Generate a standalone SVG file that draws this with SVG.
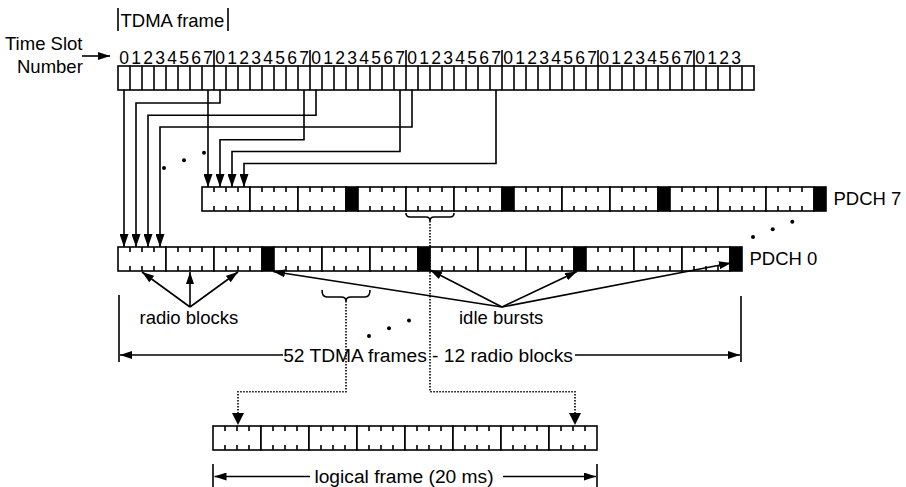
<svg xmlns="http://www.w3.org/2000/svg" xmlns:xlink="http://www.w3.org/1999/xlink" width="906" height="487" viewBox="0 0 906 487">
<style>
text{font-family:"Liberation Sans",Arial,sans-serif;fill:#000}
.lbl{font-size:18.5px}
.big{font-size:19.2px}
.dig{font-size:17.5px;text-anchor:middle}
.ln{fill:none;stroke:#000;stroke-width:1.6}
.dot{fill:none;stroke:#000;stroke-width:1.6;stroke-dasharray:1.5 1.5}
</style>
<defs>
<marker id="ah" viewBox="0 0 12 8" refX="12" refY="4" markerWidth="12" markerHeight="8" markerUnits="userSpaceOnUse" orient="auto"><path d="M0 0L12 4L0 8z" fill="#000"/></marker>
<marker id="ahB" viewBox="0 0 13 9" refX="13" refY="4.5" markerWidth="13" markerHeight="9" markerUnits="userSpaceOnUse" orient="auto"><path d="M0 0L13 4.5L0 9z" fill="#000"/></marker>
<g id="rb"><rect width="48" height="24" fill="#fff" stroke="#000" stroke-width="1.6"/><path d="M12 0v5M24 0v5M36 0v5M12 24v-5M24 24v-5M36 24v-5" stroke="#000" stroke-width="1.6"/></g>
<rect id="ib" width="12" height="24" fill="#000" stroke="#000" stroke-width="1.6"/>
</defs>
<rect width="906" height="487" fill="#fff"/>

<g id="tdma-label">
<path class="ln" d="M118 8V31M228 8V31"/>
<text class="lbl" x="120.5" y="26.5">TDMA frame</text>
</g>

<g id="ts-label">
<text class="lbl" x="5" y="49.5">Time Slot</text>
<text class="lbl" x="17" y="73">Number</text>
</g>

<g id="tdma-frames">
<rect x="118" y="66" width="636" height="24" fill="#fff" stroke="#000" stroke-width="1.6"/>
<path class="ln" d="M130 66v24M142 66v24M154 66v24M166 66v24M178 66v24M190 66v24M202 66v24M214 66v24M226 66v24M238 66v24M250 66v24M262 66v24M274 66v24M286 66v24M298 66v24M310 66v24M322 66v24M334 66v24M346 66v24M358 66v24M370 66v24M382 66v24M394 66v24M406 66v24M418 66v24M430 66v24M442 66v24M454 66v24M466 66v24M478 66v24M490 66v24M502 66v24M514 66v24M526 66v24M538 66v24M550 66v24M562 66v24M574 66v24M586 66v24M598 66v24M610 66v24M622 66v24M634 66v24M646 66v24M658 66v24M670 66v24M682 66v24M694 66v24M706 66v24M718 66v24M730 66v24M742 66v24"/>
<path class="ln" d="M214 50v16M310 50v16M406 50v16M502 50v16M598 50v16M694 50v16"/>
<text class="dig" x="124 136 148 160 172 184 196 208" y="64">01234567</text>
<text class="dig" x="220 232 244 256 268 280 292 304" y="64">01234567</text>
<text class="dig" x="316 328 340 352 364 376 388 400" y="64">01234567</text>
<text class="dig" x="412 424 436 448 460 472 484 496" y="64">01234567</text>
<text class="dig" x="508 520 532 544 556 568 580 592" y="64">01234567</text>
<text class="dig" x="604 616 628 640 652 664 676 688" y="64">01234567</text>
<text class="dig" x="700 712 724 736" y="64">0123</text>
</g>

<g id="pdch7">
<use xlink:href="#rb" x="202" y="187"/><use xlink:href="#rb" x="250" y="187"/><use xlink:href="#rb" x="298" y="187"/><use xlink:href="#ib" x="346" y="187"/>
<use xlink:href="#rb" x="358" y="187"/><use xlink:href="#rb" x="406" y="187"/><use xlink:href="#rb" x="454" y="187"/><use xlink:href="#ib" x="502" y="187"/>
<use xlink:href="#rb" x="514" y="187"/><use xlink:href="#rb" x="562" y="187"/><use xlink:href="#rb" x="610" y="187"/><use xlink:href="#ib" x="658" y="187"/>
<use xlink:href="#rb" x="670" y="187"/><use xlink:href="#rb" x="718" y="187"/><use xlink:href="#rb" x="766" y="187"/><use xlink:href="#ib" x="814" y="187"/>
<text class="lbl" x="833.5" y="205">PDCH 7</text>
</g>

<g id="pdch0">
<use xlink:href="#rb" x="118" y="247"/><use xlink:href="#rb" x="166" y="247"/><use xlink:href="#rb" x="214" y="247"/><use xlink:href="#ib" x="262" y="247"/>
<use xlink:href="#rb" x="274" y="247"/><use xlink:href="#rb" x="322" y="247"/><use xlink:href="#rb" x="370" y="247"/><use xlink:href="#ib" x="418" y="247"/>
<use xlink:href="#rb" x="430" y="247"/><use xlink:href="#rb" x="478" y="247"/><use xlink:href="#rb" x="526" y="247"/><use xlink:href="#ib" x="574" y="247"/>
<use xlink:href="#rb" x="586" y="247"/><use xlink:href="#rb" x="634" y="247"/><use xlink:href="#rb" x="682" y="247"/><use xlink:href="#ib" x="730" y="247"/>
<text class="lbl" x="749.5" y="264.5">PDCH 0</text>
</g>

<g id="logical-frame">
<use xlink:href="#rb" x="213" y="426"/><use xlink:href="#rb" x="261" y="426"/><use xlink:href="#rb" x="309" y="426"/><use xlink:href="#rb" x="357" y="426"/>
<use xlink:href="#rb" x="405" y="426"/><use xlink:href="#rb" x="453" y="426"/><use xlink:href="#rb" x="501" y="426"/><use xlink:href="#rb" x="549" y="426"/>
</g>

<g id="radio-blocks-label"><text class="lbl" x="139.5" y="323.5">radio blocks</text></g>
<g id="idle-bursts-label"><text class="lbl" x="459" y="323.5">idle bursts</text></g>

<g id="ellipses">
<circle cx="164" cy="168" r="2"/><circle cx="184" cy="160.3" r="2"/><circle cx="204" cy="152.7" r="2"/>
<circle cx="753" cy="237" r="2"/><circle cx="772.7" cy="229.3" r="2"/><circle cx="792.3" cy="221.7" r="2"/>
<circle cx="369" cy="336" r="2"/><circle cx="389" cy="328.3" r="2"/><circle cx="409" cy="320.5" r="2"/>
</g>

<g id="connectors">
<path class="ln" d="M82 56H110" marker-end="url(#ah)"/>
<path class="ln" d="M124 90V247" marker-end="url(#ahB)"/>
<path class="ln" d="M220 90V103H136V247" marker-end="url(#ahB)"/>
<path class="ln" d="M316 90V115.3H148V247" marker-end="url(#ahB)"/>
<path class="ln" d="M412 90V127H160V247" marker-end="url(#ahB)"/>
<path class="ln" d="M208 90V187" marker-end="url(#ahB)"/>
<path class="ln" d="M304 90V139.7H220V187" marker-end="url(#ahB)"/>
<path class="ln" d="M400 90V151.5H232V187" marker-end="url(#ahB)"/>
<path class="ln" d="M496 90V163.5H244V187" marker-end="url(#ahB)"/>
<path class="ln" d="M190 307L142 272" marker-end="url(#ah)"/>
<path class="ln" d="M190 307V272" marker-end="url(#ah)"/>
<path class="ln" d="M190 307L238 272" marker-end="url(#ah)"/>
<path class="ln" d="M502 307L273 271.5" marker-end="url(#ah)"/>
<path class="ln" d="M502 307L430 270" marker-end="url(#ah)"/>
<path class="ln" d="M502 307L577 271.5" marker-end="url(#ah)"/>
<path class="ln" d="M502 307L731 263" marker-end="url(#ah)"/>
<path class="ln" d="M406 213q0 4 4 4H426q4 0 4 4q0 -4 4 -4H450q4 0 4 -4"/>
<path class="ln" d="M322 290q0 7 5 7H341q5 0 5 4q0 -4 5 -4H365q5 0 5 -7"/>
<path class="dot" d="M430 221V391.7H575V414"/>
<path d="M569 413L575 425L581 413z" fill="#000"/>
<path class="dot" d="M346 301V391.7H238V414"/>
<path d="M232 413L238 425L244 413z" fill="#000"/>
<path class="ln" d="M119 295V362M741 296V362"/>
<path class="ln" d="M283 355H120" marker-end="url(#ah)"/>
<path class="ln" d="M575 355H740" marker-end="url(#ah)"/>
<text class="big" x="428" y="361.5" text-anchor="middle">52 TDMA frames - 12 radio blocks</text>
<path class="ln" d="M213 464V487M597 464V487"/>
<path class="ln" d="M310 476.5H214.5" marker-end="url(#ah)"/>
<path class="ln" d="M503 476.5H596" marker-end="url(#ah)"/>
<text class="big" x="404" y="483" text-anchor="middle">logical frame (20 ms)</text>
</g>
</svg>
